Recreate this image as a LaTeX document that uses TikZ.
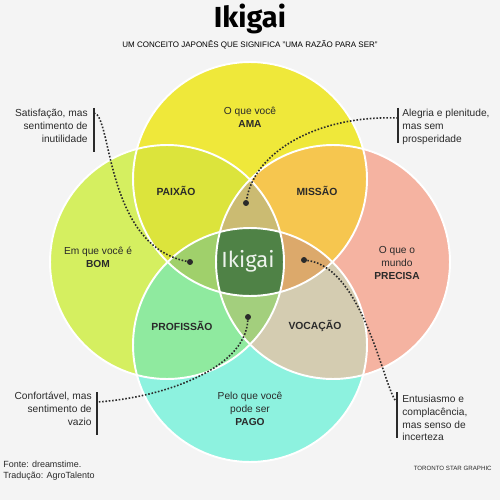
\documentclass[tikz,border=0pt]{standalone}
\usepackage{fontspec}
\setmainfont{Liberation Sans}
\newfontfamily\titlefont{Fira Sans}
\usetikzlibrary{positioning}

\definecolor{bgcol}{HTML}{F4F4F4}
\definecolor{amacol}{HTML}{EFE83A}
\definecolor{bomcol}{HTML}{D5EF60}
\definecolor{precisacol}{HTML}{F5B3A1}
\definecolor{pagocol}{HTML}{8DF2DF}
\definecolor{paixaocol}{HTML}{DCE43C}
\definecolor{missaocol}{HTML}{F6C64F}
\definecolor{profcol}{HTML}{8FEA9F}
\definecolor{vocacol}{HTML}{D4CCB1}
\definecolor{topcol}{HTML}{CBBB72}
\definecolor{leftcol}{HTML}{A0D06B}
\definecolor{rightcol}{HTML}{DCA96B}
\definecolor{botcol}{HTML}{A3CF7D}
\definecolor{ikigaicol}{HTML}{4F8246}
\definecolor{inkcol}{HTML}{2A2A2A}

\tikzset{
  zone/.style={font=\fontsize{5.8}{7.4}\selectfont, align=center, text=inkcol},
  zonebold/.style={font=\fontsize{5.9}{7.4}\selectfont\bfseries, text=inkcol},
  callout/.style={font=\fontsize{5.8}{7.3}\selectfont, inner sep=0pt, text=inkcol},
  calbar/.style={line width=1.2pt, inkcol},
  link/.style={densely dotted, line width=0.9pt, inkcol},
  dotmark/.style={circle, fill=inkcol, inner sep=0pt, minimum size=3.4pt},
  ring/.style={white, line width=1.1pt},
}

\begin{document}
\begin{tikzpicture}[x=0.02cm, y=-0.02cm]
    \def\rad{2.34cm}
    % Background
    \fill[bgcol] (0,0) rectangle (500,500);
    \useasboundingbox (0,0) rectangle (500,500);
    % Circle centres
    \coordinate (T) at (250,179);
    \coordinate (L) at (167,262);
    \coordinate (R) at (333,262);
    \coordinate (B) at (250,345);
    % Single circles
    \fill[amacol] (T) circle (\rad);
    \fill[bomcol] (L) circle (\rad);
    \fill[precisacol] (R) circle (\rad);
    \fill[pagocol] (B) circle (\rad);
    % Overlaps of two circles
    \begin{scope} \clip (T) circle (\rad); \fill[paixaocol] (L) circle (\rad); \end{scope}
    \begin{scope} \clip (T) circle (\rad); \fill[missaocol] (R) circle (\rad); \end{scope}
    \begin{scope} \clip (B) circle (\rad); \fill[profcol] (L) circle (\rad); \end{scope}
    \begin{scope} \clip (B) circle (\rad); \fill[vocacol] (R) circle (\rad); \end{scope}
    % Overlaps of three circles
    \begin{scope} \clip (T) circle (\rad); \clip (L) circle (\rad); \fill[topcol] (R) circle (\rad); \end{scope}
    \begin{scope} \clip (T) circle (\rad); \clip (L) circle (\rad); \fill[leftcol] (B) circle (\rad); \end{scope}
    \begin{scope} \clip (T) circle (\rad); \clip (R) circle (\rad); \fill[rightcol] (B) circle (\rad); \end{scope}
    \begin{scope} \clip (L) circle (\rad); \clip (R) circle (\rad); \fill[botcol] (B) circle (\rad); \end{scope}
    % Centre: all four
    \begin{scope} \clip (T) circle (\rad); \clip (L) circle (\rad); \clip (R) circle (\rad); \fill[ikigaicol] (B) circle (\rad); \end{scope}
    % White rings
    \foreach \c in {T,L,R,B} \draw[ring] (\c) circle (\rad);
    % Title
    \node (title) at (250,19) {\titlefont\bfseries\fontsize{16.5}{18}\selectfont Ikigai};
    \node (subtitle) at (250,45) {\fontsize{4.55}{5}\selectfont UM CONCEITO JAPONÊS QUE SIGNIFICA "UMA RAZÃO PARA SER"};
    % Circle labels
    \node[zone] (ama) at (250,117.5) {O que você\\\textbf{AMA}};
    \node[zone] (bom) at (98,257) {Em que você é\\\textbf{BOM}};
    \node[zone] (precisa) at (397,262.5) {O que o\\mundo\\\textbf{PRECISA}};
    \node[zone] (pago) at (250,408.5) {Pelo que você\\pode ser\\\textbf{PAGO}};
    % Overlap labels
    \node[zonebold] (paixao) at (176,191) {PAIXÃO};
    \node[zonebold] (missao) at (317,191) {MISSÃO};
    \node[zonebold] (profissao) at (182,326) {PROFISSÃO};
    \node[zonebold] (vocacao) at (315,326) {VOCAÇÃO};
    \node (ikigai) at (248,261) {\titlefont\fontsize{12.5}{14}\selectfont\color{white!90!ikigaicol}Ikigai};
    % Dots in the triple overlaps
    \node[dotmark] (dleft) at (190,262) {};
    \node[dotmark] (dtop) at (246,203) {};
    \node[dotmark] (dright) at (304,260) {};
    \node[dotmark] (dbot) at (248,317) {};
    % Callouts
    \node[callout, align=right, anchor=east] (satisf) at (88,126) {Satisfação, mas\\sentimento de\\inutilidade};
    \node[callout, align=left, anchor=west] (alegria) at (402,127) {Alegria e plenitude,\\mas sem\\prosperidade};
    \node[callout, align=right, anchor=east] (confort) at (92,409) {Confortável, mas\\sentimento de\\vazio};
    \node[callout, align=left, anchor=west] (entus) at (402,418) {Entusiasmo e\\complacência,\\mas senso de\\incerteza};
    % Bars beside the callouts
    \draw[calbar] (94,108) -- (94,152);
    \draw[calbar] (398,108) -- (398,143);
    \draw[calbar] (97,392) -- (97,435);
    \draw[calbar] (397,392) -- (397,438);
    \coordinate (satend) at (94,113);
    \coordinate (alegend) at (398,118);
    \coordinate (confend) at (97,402);
    \coordinate (entend) at (397,402);
    % Dotted links
    \draw[link] (satend) .. controls (112,115) and (105,245) .. (dleft);
    \draw[link] (alegend) .. controls (320,115) and (255,150) .. (dtop);
    \draw[link] (dright) .. controls (365,268) and (385,395) .. (entend);
    \draw[link] (dbot) .. controls (245,370) and (160,398) .. (confend);
    % Footer
    \node[callout, align=left, anchor=north west, font=\fontsize{5.1}{6}\selectfont] (fonte) at (3,461) {Fonte: dreamstime.\\Tradução: AgroTalento};
    \node[callout, anchor=east, font=\fontsize{3.5}{4.5}\selectfont] (toronto) at (492,468) {TORONTO STAR GRAPHIC};
\end{tikzpicture}
\end{document}
